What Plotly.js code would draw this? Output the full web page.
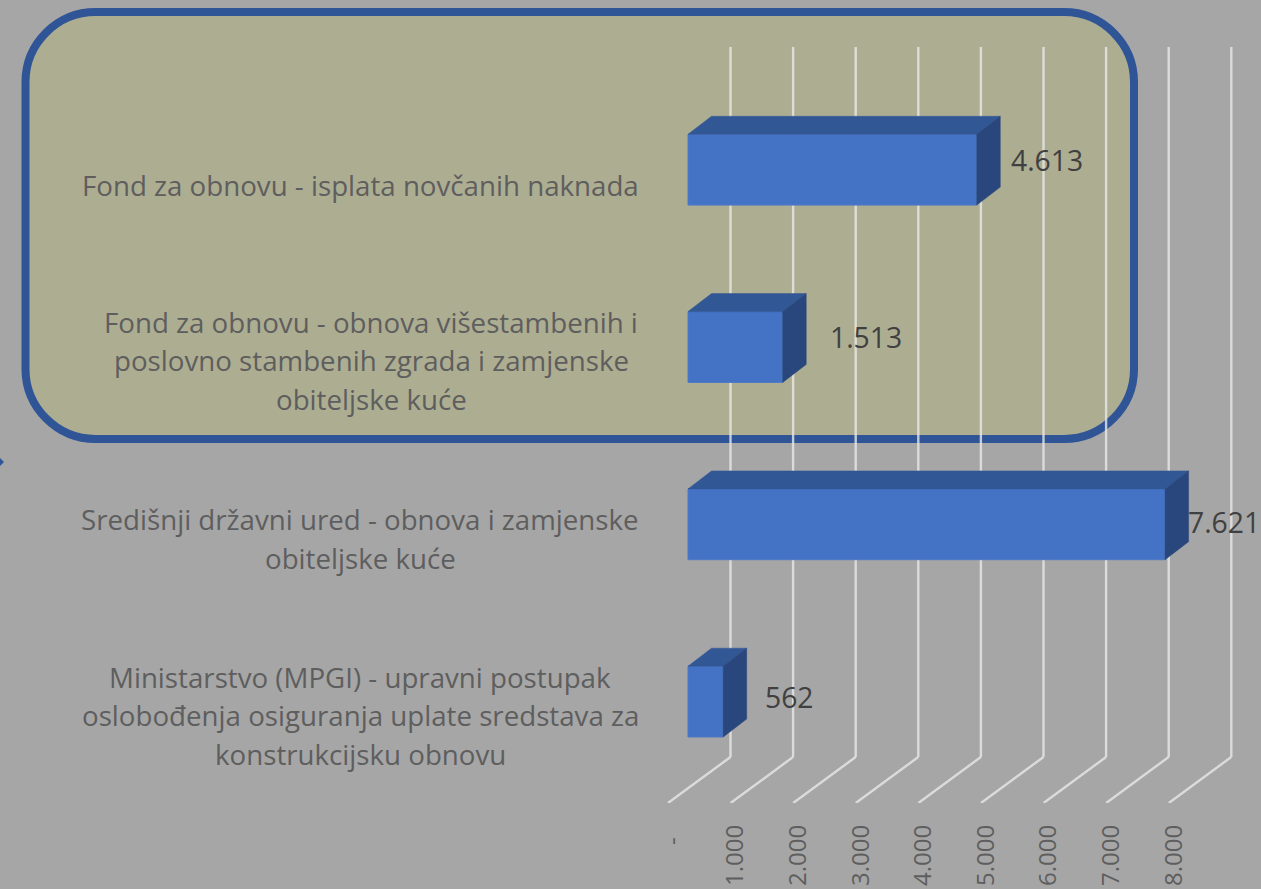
<!DOCTYPE html>
<html>
<head>
<meta charset="utf-8">
<script src="https://cdn.plot.ly/plotly-3.0.1.min.js"></script>
<style>html,body{margin:0;padding:0;background:#a6a6a6;overflow:hidden}</style>
</head>
<body>
<div id="chart" style="width:1261px;height:889px"></div>
<script>
// ---- data ----
const categoryLines = [
  ["Fond za obnovu - isplata novčanih naknada"],
  ["Fond za obnovu - obnova višestambenih i", "poslovno stambenih zgrada i zamjenske", "obiteljske kuće"],
  ["Središnji državni ured - obnova i zamjenske", "obiteljske kuće"],
  ["Ministarstvo (MPGI) - upravni postupak", "oslobođenja osiguranja uplate sredstava za", "konstrukcijsku obnovu"]
];
const values = [4613, 1513, 7621, 562];
const axisTicks = [0, 1000, 2000, 3000, 4000, 5000, 6000, 7000, 8000];
const axisTickLabels = ["-\u00a0\u00a0", "1.000", "2.000", "3.000", "4.000", "5.000", "6.000", "7.000", "8.000"];

// ---- geometry of the pseudo-3D scene ----
const W = 1261, H = 889, AXIS_PX = 803;
const ORIGIN_PX = 668, PX_PER_UNIT = 0.0626;
const ROW0_PX = 169.7, ROW_PX = 177.3;
const xMin = -ORIGIN_PX / PX_PER_UNIT, xMax = (W - ORIGIN_PX) / PX_PER_UNIT;
const yTop = -ROW0_PX / ROW_PX, yBottom = (AXIS_PX - ROW0_PX) / ROW_PX;
const X = p => (p - ORIGIN_PX) / PX_PER_UNIT;
const Y = p => (p - ROW0_PX) / ROW_PX;
const fmt = v => String(v).replace(/\B(?=(\d{3})+$)/g, ".");

const BAR_START = 20 / PX_PER_UNIT;      // bar front offset from wall-floor edge
const BAR_DX = 23.5 / PX_PER_UNIT, BAR_DY = 18 / ROW_PX;
const BAR_HALF = 35.4 / ROW_PX;
const FLOOR_DX = 62.5 / PX_PER_UNIT;

// value labels and category text placement (pixel offsets)
const valueLabelDX = [70, 83, 59, 66];
const valueLabelDY = [-10, -10, -2, -5];
const catCenterPx = [360, 371, 360, 360];
const catMidDY = [15, 13, 14, 13.5];
const LINE_PX = 38.5;

// ---- traces ----
const front = {
  type: "bar", orientation: "h", y: values.map((_, i) => i), x: values,
  base: values.map(() => BAR_START), width: BAR_HALF * 2,
  marker: {color: "#4472c4", line: {color: "#4f79c6", width: 1}}, hoverinfo: "skip", showlegend: false
};
function face(xs, ys, color) {
  return {type: "scatter", mode: "lines", x: xs, y: ys, fill: "toself", fillcolor: color,
    line: {color: color, width: 0.5}, hoverinfo: "skip", showlegend: false, cliponaxis: false};
}
const faces = [];
values.forEach((v, i) => {
  const l = BAR_START, r = BAR_START + v, t = i - BAR_HALF, b = i + BAR_HALF;
  faces.push(face([l, l + BAR_DX, r + BAR_DX, r, l], [t, t - BAR_DY, t - BAR_DY, t, t], "#325795"));
  faces.push(face([r, r + BAR_DX, r + BAR_DX, r, r], [t, t - BAR_DY, b - BAR_DY, b, t], "#29477c"));
});

// ---- decoration shapes ----
const bx0 = 25.5, by0 = 12, bx1 = 1134, by1 = 439, br = 70;
const P = (a, b) => X(a) + "," + Y(b);
const boxPath = "M" + P(bx0 + br, by0) + " L" + P(bx1 - br, by0) +
  " C" + P(bx1 - br * 0.45, by0) + " " + P(bx1, by0 + br * 0.45) + " " + P(bx1, by0 + br) +
  " L" + P(bx1, by1 - br) +
  " C" + P(bx1, by1 - br * 0.45) + " " + P(bx1 - br * 0.45, by1) + " " + P(bx1 - br, by1) +
  " L" + P(bx0 + br, by1) +
  " C" + P(bx0 + br * 0.45, by1) + " " + P(bx0, by1 - br * 0.45) + " " + P(bx0, by1 - br) +
  " L" + P(bx0, by0 + br) +
  " C" + P(bx0, by0 + br * 0.45) + " " + P(bx0 + br * 0.45, by0) + " " + P(bx0 + br, by0) + " Z";

const shapes = [
  {type: "path", layer: "below", xref: "x", yref: "y", path: boxPath, fillcolor: "#adad92",
   line: {color: "#2f5597", width: 8}},
  {type: "path", layer: "below", xref: "x", yref: "y",
   path: "M" + P(0, 458) + " L" + P(4, 462) + " L" + P(0, 466) + " Z",
   fillcolor: "#2f5597", line: {width: 0}}
];
const gridStyle = {color: "rgba(232,232,232,0.8)", width: 2.4};
axisTicks.forEach(t => {
  const backX = t + FLOOR_DX;
  shapes.push({type: "line", layer: "between", xref: "x", yref: "y",
    x0: t, y0: Y(803), x1: backX, y1: Y(757), line: gridStyle});
  shapes.push({type: "line", layer: "between", xref: "x", yref: "y",
    x0: backX, y0: Y(757), x1: backX, y1: Y(47), line: gridStyle});
});

// ---- text ----
const annotations = [];
categoryLines.forEach((lines, i) => {
  lines.forEach((txt, k) => {
    annotations.push({
      xref: "x", yref: "y", x: X(catCenterPx[i]), y: i, showarrow: false, text: txt,
      xanchor: "center", yanchor: "middle",
      yshift: -(catMidDY[i] + (k - (lines.length - 1) / 2) * LINE_PX),
      font: {family: "Open Sans", size: 27.7, color: "#5e5e5e"}
    });
  });
});
values.forEach((v, i) => {
  annotations.push({
    xref: "x", yref: "y", x: BAR_START + v, y: i, showarrow: false, text: fmt(v),
    xanchor: "center", yanchor: "middle", xshift: valueLabelDX[i], yshift: -valueLabelDY[i],
    font: {family: "Open Sans", size: 28.3, color: "#404040"}
  });
});

const layout = {
  width: W, height: H, margin: {l: 0, r: 0, t: 0, b: H - AXIS_PX, pad: 0},
  paper_bgcolor: "#a6a6a6", plot_bgcolor: "rgba(0,0,0,0)",
  showlegend: false, hovermode: false, dragmode: false,
  xaxis: {range: [xMin, xMax], tickmode: "array", tickvals: axisTicks, ticktext: axisTickLabels,
    tickangle: -90, showgrid: false, zeroline: false, showline: false, ticks: "",
    ticklabelstandoff: 16, ticklabelshift: 5, fixedrange: true,
    tickfont: {family: "Open Sans", size: 24, color: "#5e5e5e"}},
  yaxis: {range: [yBottom, yTop], visible: false, showgrid: false, zeroline: false, fixedrange: true},
  shapes: shapes, annotations: annotations
};
Plotly.newPlot("chart", [front].concat(faces), layout, {displayModeBar: false, staticPlot: true});
</script>
</body>
</html>
